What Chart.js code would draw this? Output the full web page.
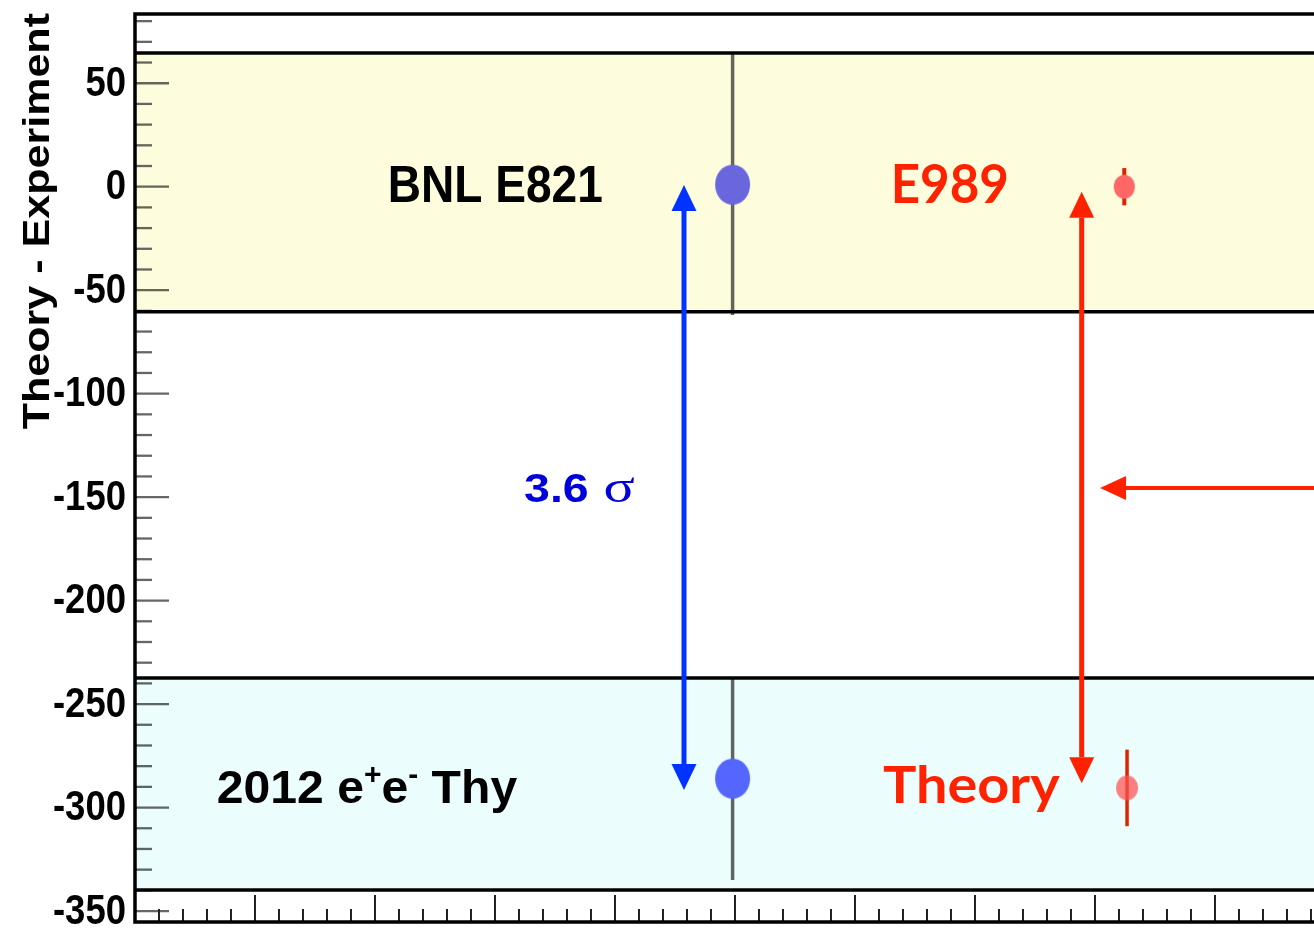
<!DOCTYPE html>
<html>
<head>
<meta charset="utf-8">
<title>Theory - Experiment</title>
<script src="https://cdn.jsdelivr.net/npm/chart.js@4.4.1/dist/chart.umd.min.js"></script>
<style>
  html, body { margin: 0; padding: 0; background: #fff; overflow: hidden; }
  canvas { display: block; }
</style>
</head>
<body>
<canvas id="chart" width="1314" height="931"></canvas>
<script>
/* ============================================================
   g-2 : theory minus experiment, BNL E821 vs E989 projection
   ============================================================ */

// ── Data ────────────────────────────────────────────────────

const yRange = [-355.3, 83.45];
const xRange = [0, 9.825];
const yTickValues = [-350, -300, -250, -200, -150, -100, -50, 0, 50];
const yTitle = "Theory - Experiment";

const pointNames = ["BNL E821", "2012 e+e- Thy", "E989", "Theory"];
const pointX     = [4.98, 4.98, 8.244, 8.267];
const pointY     = [1, -286, 0, -290.5];
const pointErr   = [63, 49, 9, 18.5];

// shaded bands: experiment (top) and theory (bottom)
const bandLow  = [-60.4, -339.8];
const bandHigh = [64.6, -237.4];

const arrowFromX = [4.575, 7.889, 10.5];
const arrowFromY = [0.8, -2.4, -145.6];
const arrowToX   = [4.575, 7.889, 8.042];
const arrowToY   = [-291.5, -288.3, -145.6];

const noteRuns = [
  ["BNL E821"],
  ["E989"],
  ["3.6"],
  ["σ"],
  ["2012 e", "+", "e", "-", " Thy"],
  ["Theory"],
];

// ── Styles / layout ─────────────────────────────────────────

const SANS = '"Liberation Sans", Arial, Helvetica, sans-serif';
const SERIF = '"Liberation Serif", "Times New Roman", serif';
const STRETCH = 1.148;          // lettering on this slide is drawn a bit tall
const BAND_FILL = ["#fdfdde", "#ebfdfd"];

const pointLook = [
  { color: "#6a66dd", rx: 17.5, ry: 20, bar: "rgba(0,0,0,0.6)", barWidth: 3.5 },
  { color: "#5566ff", rx: 17.5, ry: 20, bar: "rgba(0,0,0,0.6)", barWidth: 3.5 },
  { color: "#ff6666", rx: 10.5, ry: 12, bar: "#dd2200", barWidth: 4 },
  { color: "rgba(255,80,80,0.72)", rx: 11, ry: 12.5, bar: "#e02200", barWidth: 3.5 },
];

const arrowLook = [
  { color: "#0033ff", width: 5, headLen: 26, headHalf: 12.5, both: true },
  { color: "#ff2200", width: 5, headLen: 26, headHalf: 12.5, both: true },
  { color: "#ff2200", width: 4, headLen: 26, headHalf: 12, both: false },
];

// anchor = left edge of ink and baseline, in axis units; width = ink width in px
const noteLayout = [
  { x: 2.131, y: -7.3, width: 211, color: "#000", fonts: [`bold 45px ${SANS}`] },
  { x: 6.325, y: -7.8, width: 113, color: "#ff2200", fonts: ["bold 46px Lato"] },
  { x: 3.242, y: -152.2, width: 64, color: "#0000dd", fonts: [`bold 35px ${SANS}`] },
  { x: 3.917, y: -152.2, width: 29, color: "#0000dd", fonts: [`40px ${SERIF}`] },
  { x: 0.692, y: -297.7, width: 300, color: "#000",
    fonts: [`bold 40px ${SANS}`, `bold 25px ${SANS}`, `bold 40px ${SANS}`, `bold 25px ${SANS}`, `bold 40px ${SANS}`],
    rise: [0, 16, 0, 16, 0] },
  { x: 6.233, y: -297.7, width: 177, color: "#ff2200", fonts: ["bold 45px Lato"] },
];

// ── Drawing helpers ─────────────────────────────────────────

function ellipseDot(color, rx, ry) {
  const c = document.createElement("canvas");
  c.width = Math.ceil(rx * 2) + 2;
  c.height = Math.ceil(ry * 2) + 2;
  const g = c.getContext("2d");
  g.fillStyle = color;
  g.beginPath();
  g.ellipse(c.width / 2, c.height / 2, rx, ry, 0, 0, Math.PI * 2);
  g.fill();
  return c;
}

function drawArrow(ctx, x1, y1, x2, y2, st) {
  const len = Math.hypot(x2 - x1, y2 - y1);
  const ux = (x2 - x1) / len, uy = (y2 - y1) / len;
  const sx = st.both ? x1 + ux * st.headLen : x1;
  const sy = st.both ? y1 + uy * st.headLen : y1;

  ctx.strokeStyle = st.color;
  ctx.fillStyle = st.color;
  ctx.lineWidth = st.width;
  ctx.beginPath();
  ctx.moveTo(sx, sy);
  ctx.lineTo(x2 - ux * st.headLen, y2 - uy * st.headLen);
  ctx.stroke();

  const head = (tx, ty, dx, dy) => {
    const bx = tx - dx * st.headLen, by = ty - dy * st.headLen;
    ctx.beginPath();
    ctx.moveTo(tx, ty);
    ctx.lineTo(bx - dy * st.headHalf, by + dx * st.headHalf);
    ctx.lineTo(bx + dy * st.headHalf, by - dx * st.headHalf);
    ctx.closePath();
    ctx.fill();
  };
  head(x2, y2, ux, uy);
  if (st.both) head(x1, y1, -ux, -uy);
}

function drawNote(ctx, runs, lay, px, py) {
  const rise = lay.rise || runs.map(() => 0);
  const metrics = runs.map((r, i) => {
    ctx.font = lay.fonts[i];
    return ctx.measureText(r);
  });
  const inkLeft = -metrics[0].actualBoundingBoxLeft;
  let adv = 0;
  const starts = metrics.map(m => { const s = adv; adv += m.width; return s; });
  const last = metrics.length - 1;
  const inkRight = starts[last] + metrics[last].actualBoundingBoxRight;
  const sx = lay.width / (inkRight - inkLeft);

  ctx.save();
  ctx.translate(px - inkLeft * sx, py);
  ctx.scale(sx, STRETCH);
  ctx.fillStyle = lay.color;
  ctx.textAlign = "left";
  ctx.textBaseline = "alphabetic";
  runs.forEach((r, i) => {
    ctx.font = lay.fonts[i];
    ctx.fillText(r, starts[i], -rise[i]);
  });
  ctx.restore();
}

function hLine(ctx, x1, x2, y) {
  ctx.beginPath();
  ctx.moveTo(x1, y);
  ctx.lineTo(x2, y);
  ctx.stroke();
}

// ── Plugin: bands, inner ticks, arrows, labels, frame ───────

const decor = {
  id: "decor",
  beforeDatasetsDraw(chart) {
    const { ctx, chartArea: a, scales: { x, y } } = chart;
    ctx.save();

    bandLow.forEach((lo, i) => {
      const top = y.getPixelForValue(bandHigh[i]);
      const bot = y.getPixelForValue(lo);
      ctx.fillStyle = BAND_FILL[i];
      ctx.fillRect(a.left, top, a.right - a.left, bot - top);
    });

    // y ticks point into the frame, one every 10
    ctx.strokeStyle = "rgba(0,0,0,0.6)";
    ctx.lineWidth = 2.3;
    for (let v = Math.ceil(y.min / 10) * 10; v <= y.max; v += 10) {
      hLine(ctx, a.left, a.left + (v % 50 === 0 ? 34 : 17), y.getPixelForValue(v));
    }

    // x ticks rise from the bottom edge, 5 per unit
    ctx.strokeStyle = "#222";
    ctx.lineWidth = 2;
    for (let k = 0; k / 5 <= x.max; k++) {
      const px = x.getPixelForValue(k / 5);
      const len = k % 5 === 0 ? 27 : 13;
      ctx.beginPath();
      ctx.moveTo(px, a.bottom);
      ctx.lineTo(px, a.bottom - len);
      ctx.stroke();
    }

    ctx.strokeStyle = "#000";
    ctx.lineWidth = 3.5;
    bandLow.forEach((lo, i) => {
      hLine(ctx, a.left, a.right, y.getPixelForValue(lo));
      hLine(ctx, a.left, a.right, y.getPixelForValue(bandHigh[i]));
    });
    ctx.restore();
  },

  afterDatasetsDraw(chart) {
    const { ctx, chartArea: a, scales: { x, y } } = chart;
    ctx.save();

    arrowFromX.forEach((fx, i) => {
      drawArrow(ctx,
        x.getPixelForValue(fx), y.getPixelForValue(arrowFromY[i]),
        x.getPixelForValue(arrowToX[i]), y.getPixelForValue(arrowToY[i]),
        arrowLook[i]);
    });

    noteRuns.forEach((runs, i) => {
      const lay = noteLayout[i];
      drawNote(ctx, runs, lay, x.getPixelForValue(lay.x), y.getPixelForValue(lay.y));
    });

    // frame: left, top and bottom (the right side runs off the page)
    ctx.strokeStyle = "#000";
    ctx.lineWidth = 3.5;
    ctx.beginPath();
    ctx.moveTo(a.right + 5, a.top);
    ctx.lineTo(a.left, a.top);
    ctx.lineTo(a.left, a.bottom);
    ctx.lineTo(a.right + 5, a.bottom);
    ctx.stroke();

    // y tick labels, taken from the scale's own ticks
    ctx.fillStyle = "#000";
    ctx.font = `bold 36.5px ${SANS}`;
    ctx.textAlign = "right";
    ctx.textBaseline = "middle";
    y.ticks.forEach(t => {
      ctx.save();
      ctx.translate(a.left - 9, y.getPixelForValue(t.value));
      ctx.scale(1, STRETCH);
      ctx.fillText(String(t.value), 0, 1);
      ctx.restore();
    });

    // axis title, rotated and flush with the top of the frame
    ctx.translate(39, a.top - 1);
    ctx.rotate(-Math.PI / 2);
    ctx.scale(STRETCH, 1);
    ctx.font = `bold 37.5px ${SANS}`;
    ctx.textAlign = "right";
    ctx.textBaseline = "middle";
    ctx.fillText(yTitle, 0, 0);
    ctx.restore();
  },
};

// ── Datasets ────────────────────────────────────────────────

const barSets = pointX.map((px, i) => ({
  label: pointNames[i] + " error",
  data: [
    { x: px, y: pointY[i] - pointErr[i] },
    { x: px, y: pointY[i] + pointErr[i] },
  ],
  showLine: true,
  borderColor: pointLook[i].bar,
  borderWidth: pointLook[i].barWidth,
  pointRadius: 0,
  order: 1,
}));

const pointSet = {
  label: "measurements",
  data: pointX.map((px, i) => ({ x: px, y: pointY[i] })),
  pointStyle: pointLook.map(p => ellipseDot(p.color, p.rx, p.ry)),
  pointRadius: pointLook.map(p => p.rx),
  borderWidth: 0,
  order: 0,
};

// ── Chart ───────────────────────────────────────────────────

Chart.defaults.font.family = SANS;
Chart.defaults.color = "#000";

new Chart(document.getElementById("chart"), {
  type: "scatter",
  data: { datasets: [pointSet, ...barSets] },
  options: {
    responsive: false,
    devicePixelRatio: 1,
    animation: false,
    events: [],
    layout: { autoPadding: false, padding: { top: 14, bottom: 9, left: 0, right: 0 } },
    plugins: {
      legend: { display: false },
      tooltip: { enabled: false },
    },
    scales: {
      x: {
        type: "linear",
        display: false,
        min: xRange[0],
        max: xRange[1],
        ticks: { display: false },
      },
      y: {
        type: "linear",
        min: yRange[0],
        max: yRange[1],
        afterBuildTicks: scale => { scale.ticks = yTickValues.map(v => ({ value: v })); },
        afterFit: scale => { scale.width = 135; },
        grid: { display: false, drawTicks: false },
        border: { display: false },
        ticks: { display: false },
      },
    },
  },
  plugins: [decor],
});
</script>
</body>
</html>
